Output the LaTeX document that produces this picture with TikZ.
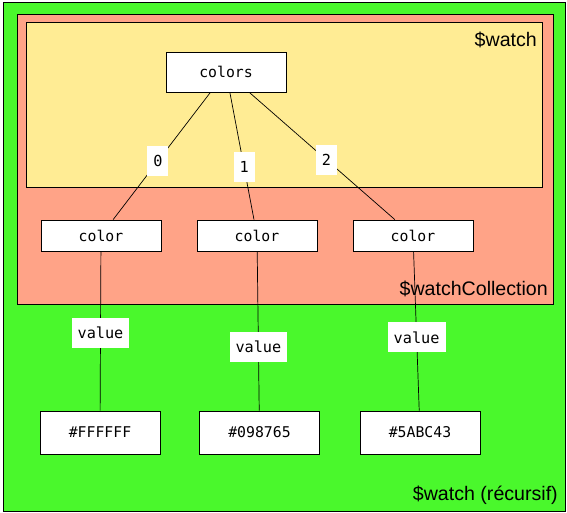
\documentclass[tikz,border=0pt]{standalone}
\usepackage{fontspec}
\setmainfont{Liberation Sans}
\setmonofont{DejaVu Sans Mono}
\begin{document}
\begin{tikzpicture}[x=1pt,y=-1pt]
\tikzset{
  scopebox/.style={draw=black, line width=1pt},
  key/.style={draw=black, fill=white, line width=.9pt, minimum width=120pt, inner sep=0pt,
    font=\ttfamily\fontsize{14.8}{17}\selectfont},
  edgelabel/.style={fill=white, inner xsep=6pt, inner ysep=0pt, minimum height=30pt,
    font=\ttfamily\fontsize{15.2}{17}\selectfont},
  scopename/.style={anchor=east, inner sep=0pt, font=\fontsize{19.6}{22}\selectfont},
  link/.style={draw=black, line width=.7pt}
}

\definecolor{recgreen}{RGB}{74,248,44}
\definecolor{collsalmon}{RGB}{255,163,135}
\definecolor{watchyellow}{RGB}{255,236,148}

\useasboundingbox (0,0) rectangle (567,513);

% nested watchers
\draw[scopebox, fill=recgreen] (3,3) rectangle (565,511);
\draw[scopebox, fill=collsalmon] (17,15) rectangle (553,304);
\draw[scopebox, fill=watchyellow] (26,23) rectangle (542,188);
\node[scopename] (wname) at (537,40) {\$watch};
\node[scopename] (cname) at (548,289) {\$watchCollection};
\node[scopename] (rname) at (558,495) {\$watch (récursif)};

% keys
\node[key, minimum height=40pt] (colors) at (226,72) {colors};
\node[key, minimum height=31pt] (color0) at (101,235.5) {color};
\node[key, minimum height=31pt] (color1) at (257,235.5) {color};
\node[key, minimum height=31pt] (color2) at (413,235.5) {color};
\node[key, minimum height=43pt] (val0) at (100,432.5) {\#FFFFFF};
\node[key, minimum height=43pt] (val1) at (259.5,432.5) {\#098765};
\node[key, minimum height=43pt] (val2) at (420,432.5) {\#5ABC43};

% links
\draw[link] (colors) -- node[edgelabel, pos=.54] (idx0) {0} (color0);
\draw[link] (colors) -- node[edgelabel, pos=.59] (idx1) {1} (color1);
\draw[link] (colors) -- node[edgelabel, pos=.53] (idx2) {2} (color2);
\draw[link] (color0) -- node[edgelabel, pos=.51] (lab0) {value} (val0);
\draw[link] (color1) -- node[edgelabel, pos=.60] (lab1) {value} (val1);
\draw[link] (color2) -- node[edgelabel, pos=.54] (lab2) {value} (val2);
\end{tikzpicture}
\end{document}
